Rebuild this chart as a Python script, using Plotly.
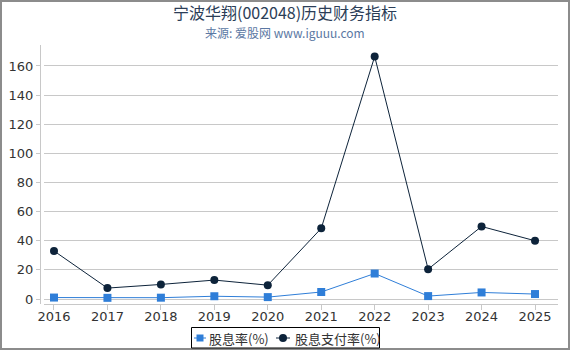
import plotly.graph_objects as go

years = [2016, 2017, 2018, 2019, 2020, 2021, 2022, 2023, 2024, 2025]
dividend_yield = [1.0, 0.8, 0.9, 1.9, 1.3, 4.8, 17.5, 2.0, 4.5, 3.4]
payout_ratio = [33.0, 7.5, 10.0, 13.0, 9.5, 48.5, 166.5, 20.5, 49.8, 40.0]
y_ticks = [0, 20, 40, 60, 80, 100, 120, 140, 160]
series_names = ["股息率(%)", "股息支付率(%)"]
series_colors = ["#2f7ed8", "#0d233a"]

W, H = 570, 350
L, R, T, B = 40, 12, 45, 46
PW, PH = W - L - R, H - T - B

def px(x):
    return (x - L) / PW

def py(y):
    return (H - B - y) / PH

fig = go.Figure()
fig.add_trace(go.Scatter(
    x=years, y=dividend_yield, name=series_names[0], mode="lines+markers",
    line=dict(color=series_colors[0], width=1),
    marker=dict(symbol="square", size=8, color=series_colors[0]),
))
fig.add_trace(go.Scatter(
    x=years, y=payout_ratio, name=series_names[1], mode="lines+markers",
    line=dict(color=series_colors[1], width=1),
    marker=dict(symbol="circle", size=8, color=series_colors[1]),
))

font_fam = "DejaVu Sans, Noto Sans CJK SC, sans-serif"
cjk = "Noto Sans CJK SC, DejaVu Sans, sans-serif"

# manual legend geometry (pixels)
leg_y = 338
shapes = [
    dict(type="rect", xref="paper", yref="paper",
         x0=px(1), x1=px(569), y0=py(349), y1=py(1),
         line=dict(color="#8c8c8c", width=2), fillcolor="rgba(0,0,0,0)", layer="above"),
    dict(type="rect", xref="paper", yref="paper",
         x0=px(191.5), x1=px(379.5), y0=py(348), y1=py(327.5),
         line=dict(color="#000000", width=1), fillcolor="white", layer="above"),
    dict(type="line", xref="paper", yref="paper",
         x0=px(194), x1=px(206), y0=py(leg_y), y1=py(leg_y),
         line=dict(color=series_colors[0], width=1), layer="above"),
    dict(type="rect", xref="paper", yref="paper",
         x0=px(196.5), x1=px(203.5), y0=py(leg_y + 3.5), y1=py(leg_y - 3.5),
         line=dict(width=0), fillcolor=series_colors[0], layer="above"),
    dict(type="line", xref="paper", yref="paper",
         x0=px(276), x1=px(290), y0=py(leg_y), y1=py(leg_y),
         line=dict(color=series_colors[1], width=1), layer="above"),
    dict(type="circle", xref="paper", yref="paper",
         x0=px(279), x1=px(287), y0=py(leg_y + 4), y1=py(leg_y - 4),
         line=dict(width=0), fillcolor=series_colors[1], layer="above"),
]

annotations = [
    dict(text="宁波华翔(002048)历史财务指标", xref="paper", yref="paper",
         x=px(285), y=py(12), xanchor="center", yanchor="middle", showarrow=False,
         font=dict(size=16, color="#2b3d57", family=cjk)),
    dict(text="来源: 爱股网 www.iguuu.com", xref="paper", yref="paper",
         x=px(285), y=py(32.3), xanchor="center", yanchor="middle", showarrow=False,
         font=dict(size=12, color="#5b78a3", family=cjk)),
    dict(text=series_names[0], xref="paper", yref="paper",
         x=px(207), y=py(leg_y), xanchor="left", yanchor="middle", showarrow=False,
         font=dict(size=13, color="#333333", family=cjk)),
    dict(text=series_names[1], xref="paper", yref="paper",
         x=px(293), y=py(leg_y), xanchor="left", yanchor="middle", showarrow=False,
         font=dict(size=13, color="#333333", family=cjk)),
]

fig.update_layout(
    width=W, height=H,
    margin=dict(l=L, r=R, t=T, b=B, pad=0, autoexpand=False),
    paper_bgcolor="white", plot_bgcolor="white",
    font=dict(family=font_fam, size=13, color="#333333"),
    showlegend=False,
    xaxis=dict(
        domain=[4 / PW, 1],
        range=[2015.813, 2025.43],
        tickmode="array", tickvals=years, ticktext=[str(y) for y in years],
        showgrid=False, zeroline=False,
        showline=True, linecolor="#c8c8c8", linewidth=1,
        ticks="outside", ticklen=5, tickcolor="#c8c8c8",
        ticklabelstandoff=-5,
        tickfont=dict(size=13, color="#333333"),
    ),
    yaxis=dict(
        anchor="free", position=0,
        range=[-3.43, 174.4],
        tickmode="array", tickvals=y_ticks,
        showgrid=True, gridcolor="#c8c8c8", gridwidth=1,
        zeroline=False,
        showline=True, linecolor="#c8c8c8", linewidth=1,
        ticks="outside", ticklen=4, tickcolor="#c8c8c8",
        tickfont=dict(size=13, color="#333333"),
    ),
    annotations=annotations,
    shapes=shapes,
)

fig.write_html("out.html")
